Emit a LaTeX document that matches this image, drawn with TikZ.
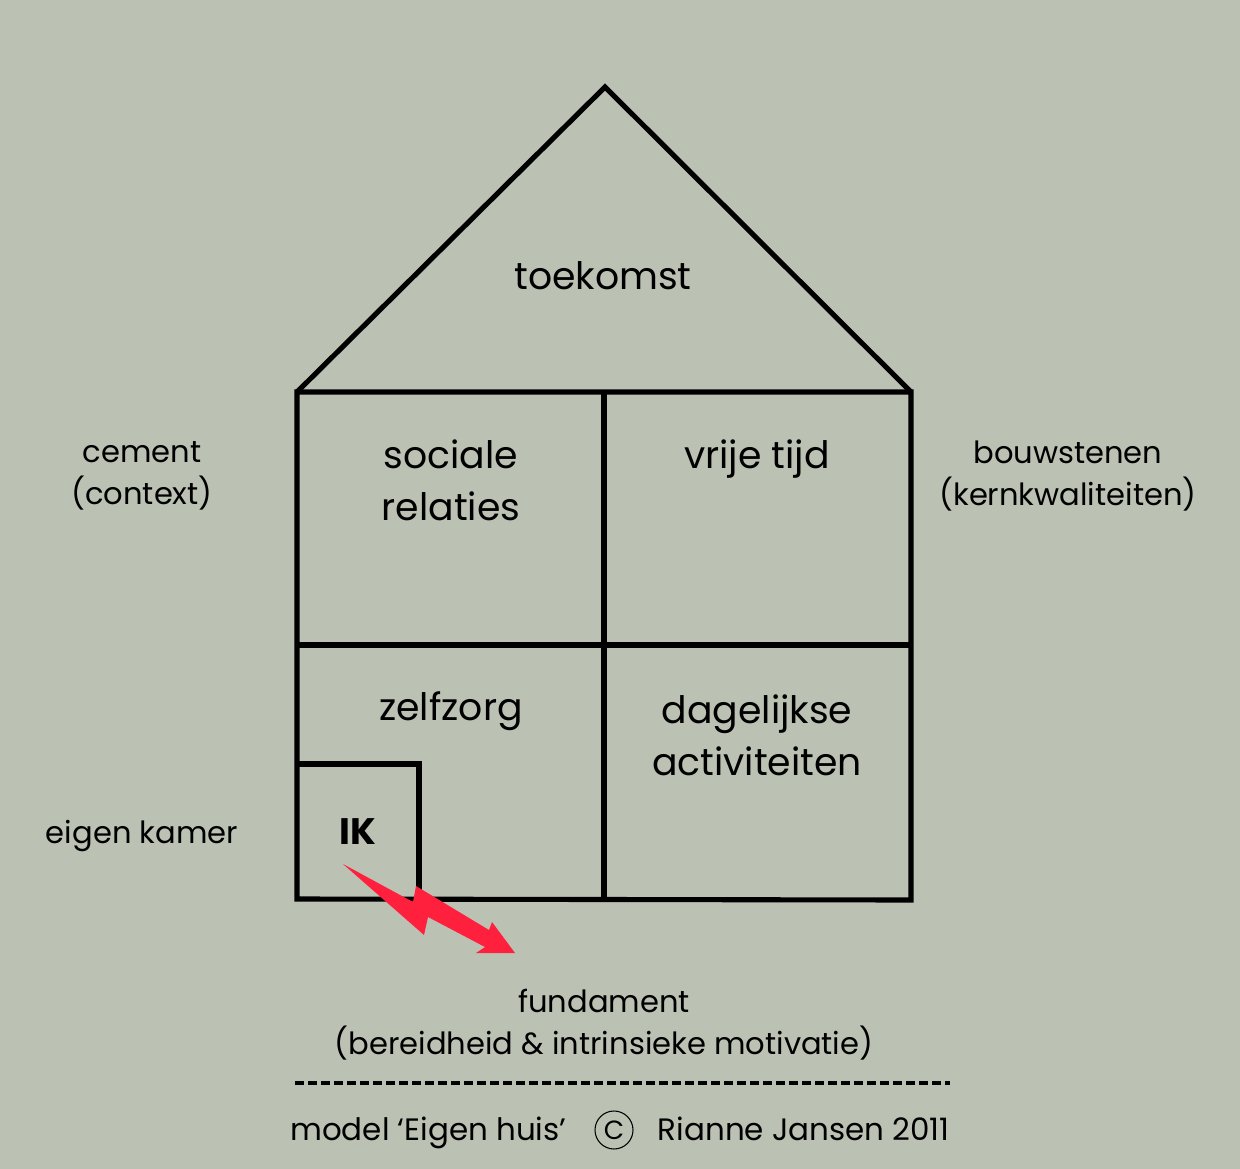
\documentclass[tikz,border=0pt]{standalone}
\usepackage{fontspec}
\setmainfont{Poppins}
\definecolor{wall}{RGB}{187,193,179}
\definecolor{bolt}{RGB}{255,32,62}
\tikzstyle{wall line}=[line width=2.9pt, line join=miter]
\tikzstyle{room}=[font=\fontsize{21.5}{29.5}\selectfont, align=center]
\tikzstyle{side}=[font=\fontsize{17.4}{24}\selectfont, align=center]
\tikzstyle{footer}=[font=\fontsize{17.6}{24}\selectfont, anchor=base]

\begin{document}
\begin{tikzpicture}[x=0.02cm, y=-0.02cm]
    \fill[wall] (0, 0) rectangle (1240, 1169);
    \useasboundingbox (0, 0) rectangle (1240, 1169);

    \coordinate (apex) at (605, 87);
    \coordinate (nw) at (297, 392);
    \coordinate (ne) at (911, 392);
    \coordinate (sw) at (297, 899);
    \coordinate (se) at (911, 900);
    \coordinate (n_mid) at (604, 392);
    \coordinate (s_mid) at (604, 899);
    \coordinate (w_mid) at (297, 645);
    \coordinate (e_mid) at (911, 645);
    \coordinate (ik_nw) at (297, 764);
    \coordinate (ik_se) at (419, 899);

    % roof and walls
    \draw[wall line] (nw) -- (apex) -- (ne);
    \draw[wall line] (nw) -- (ne) -- (se) -- (sw) -- cycle;
    \draw[wall line] (n_mid) -- (s_mid);
    \draw[wall line] (w_mid) -- (e_mid);
    \draw[wall line] (ik_nw) -| (ik_se);

    \node[room] (toekomst) at (603, 276) {toekomst};
    \node[room] (sociaal) at (451, 480) {sociale\\relaties};
    \node[room] (vrij) at (757, 459) {vrije tijd};
    \node[room] (zorg) at (451, 711) {zelfzorg};
    \node[room] (dag) at (757, 735) {dagelijkse\\activiteiten};
    \node[room, font=\fontsize{21}{29}\selectfont\bfseries] (ik) at (358, 832) {IK};

    \node[side] (cement) at (142, 476) {cement\\(context)};
    \node[side] (bouw) at (1068, 476) {bouwstenen\\(kernkwaliteiten)};
    \node[side] (kamer) at (142, 836) {eigen kamer};
    \node[side] (fundament) at (604, 1025) {fundament\\(bereidheid \& intrinsieke motivatie)};

    % lightning out of the own room
    \fill[bolt] (343, 864) -- (413, 902) -- (416, 886) -- (489, 930)
      -- (492, 922) -- (515, 953) -- (476, 953) -- (485, 947)
      -- (428, 917) -- (424, 935) -- cycle;

    \coordinate (rule_l) at (295, 1083);
    \coordinate (rule_r) at (950, 1083);
    \draw[line width=2.3pt, dash pattern=on 5.3pt off 2.1pt] (rule_l) -- (rule_r);

    \node[footer, anchor=base west, inner sep=0] (model) at (290, 1140) {model ‘Eigen huis’};
    \node[draw, circle, line width=0.6pt, minimum size=0.76cm, inner sep=0,
      font=\fontsize{15}{16}\selectfont] (copy) at (614, 1130) {C};
    \node[footer, anchor=base east, inner sep=0] (naam) at (950, 1140) {Rianne Jansen 2011};
\end{tikzpicture}
\end{document}
